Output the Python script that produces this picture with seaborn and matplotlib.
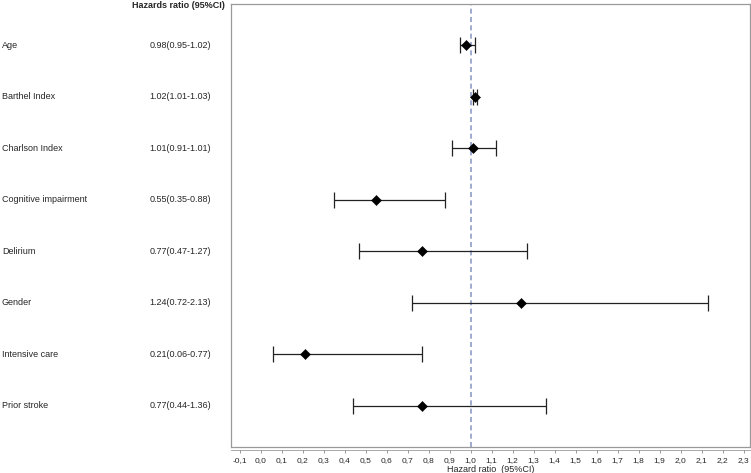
import numpy as np
import pandas as pd
import matplotlib
matplotlib.use("Agg")
import matplotlib.pyplot as plt
import matplotlib.transforms as mtransforms
import seaborn as sns

# Data
variables = ["Age", "Barthel Index", "Charlson Index", "Cognitive impairment",
             "Delirium", "Gender", "Intensive care", "Prior stroke"]
hr_text = ["0.98(0.95-1.02)", "1.02(1.01-1.03)", "1.01(0.91-1.01)", "0.55(0.35-0.88)",
           "0.77(0.47-1.27)", "1.24(0.72-2.13)", "0.21(0.06-0.77)", "0.77(0.44-1.36)"]
hr = [0.98, 1.02, 1.01, 0.55, 0.77, 1.24, 0.21, 0.77]
ci_low = [0.95, 1.01, 0.91, 0.35, 0.47, 0.72, 0.06, 0.44]
ci_high = [1.02, 1.03, 1.12, 0.88, 1.27, 2.13, 0.77, 1.36]

df = pd.DataFrame({"variable": variables, "hr": hr, "low": ci_low, "high": ci_high})
df["pos"] = np.arange(len(df))

sns.set_theme(style="white")
plt.rcParams["font.family"] = ["Liberation Sans", "DejaVu Sans"]

fig = plt.figure(figsize=(7.51, 4.73), dpi=100)
ax = fig.add_axes([231 / 751, 1 - 447 / 473, 519 / 751, 443 / 473])

# reference line at HR = 1
ax.axvline(1.0, color="#8e9dc6", lw=1.2, ls=(0, (3, 2)), zorder=1)

# confidence intervals
ax.errorbar(df["hr"], df["pos"],
            xerr=[df["hr"] - df["low"], df["high"] - df["hr"]],
            fmt="none", ecolor="#222222", elinewidth=0.9, capsize=6, capthick=0.9, zorder=2)

sns.scatterplot(data=df, x="hr", y="pos", marker="D", color="black", s=26,
                edgecolor="black", linewidth=0.4, ax=ax, zorder=3, legend=False)

ax.set_xlim(-0.141, 2.33)
ax.set_ylim(7.8, -0.8)
ax.set_yticks([])
ax.set_ylabel("")

xt = np.round(np.arange(-0.1, 2.31, 0.1), 1)
ax.set_xticks(xt)
ax.set_xticklabels([f"{t:.1f}".replace(".", ",") for t in xt])
ax.tick_params(axis="x", direction="out", length=2.5, width=0.6, color="#888888", pad=2,
               bottom=True, labelsize=6)
ax.set_xlabel("Hazard ratio  (95%CI)", fontsize=6.5, labelpad=1)

for side in ["top", "left", "right", "bottom"]:
    ax.spines[side].set_color("#9a9a9a")
    ax.spines[side].set_linewidth(0.9)
ax.spines["bottom"].set_position(("outward", 2.5))
ax.spines["bottom"].set_linewidth(0.6)
# box closing line
ax.plot([0, 1], [0, 0], transform=ax.transAxes, color="#9a9a9a", lw=0.9, clip_on=False)

# left-hand table of names and HR text
trans = mtransforms.blended_transform_factory(fig.transFigure, ax.transData)
for p, name, txt in zip(df["pos"], variables, hr_text):
    ax.text(2 / 751, p, name, transform=trans, ha="left", va="center", fontsize=6.5)
    ax.text(211 / 751, p, txt, transform=trans, ha="right", va="center", fontsize=6.5)

fig.text(225 / 751, 1 - 5 / 473, "Hazards ratio (95%CI)", ha="right", va="center",
         fontsize=6.5, fontweight="bold")

fig.savefig("out.png", dpi=100)
